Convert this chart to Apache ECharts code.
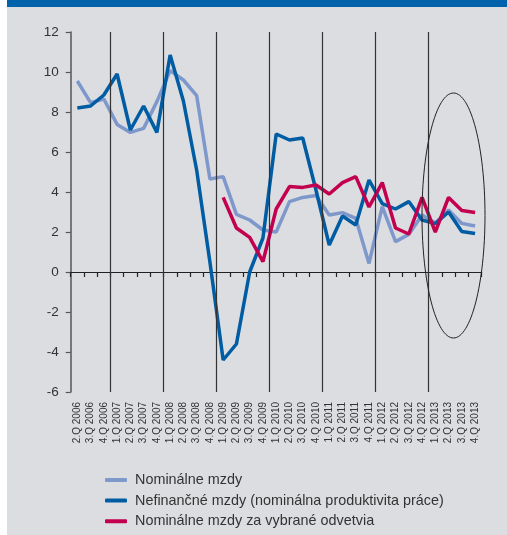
<!DOCTYPE html>
<html>
<head>
<meta charset="utf-8">
<script src="https://cdn.jsdelivr.net/npm/echarts@6/dist/echarts.min.js"></script>
<style>
html,body{margin:0;padding:0;background:#fff;}
#c{width:507px;height:535px;}
</style>
</head>
<body>
<div id="c"></div>
<script>
const categories = [
  '2.Q 2006','3.Q 2006','4.Q 2006',
  '1.Q 2007','2.Q 2007','3.Q 2007','4.Q 2007',
  '1.Q 2008','2.Q 2008','3.Q 2008','4.Q 2008',
  '1.Q 2009','2.Q 2009','3.Q 2009','4.Q 2009',
  '1.Q 2010','2.Q 2010','3.Q 2010','4.Q 2010',
  '1.Q 2011','2.Q 2011','3.Q 2011','4.Q 2011',
  '1.Q 2012','2.Q 2012','3.Q 2012','4.Q 2012',
  '1.Q 2013','2.Q 2013','3.Q 2013','4.Q 2013'
];
const nominalneMzdy = [
  9.55, 8.47, 8.65,
  7.38, 6.98, 7.18, 8.52,
  10.07, 9.6, 8.82, 4.65,
  4.77, 2.88, 2.6, 2.1,
  2.0, 3.52, 3.73, 3.82,
  2.85, 2.97, 2.68, 0.43,
  3.27, 1.52, 1.88, 2.85,
  2.45, 3.1, 2.43, 2.3
];
const nefinancneMzdy = [
  8.2, 8.3, 8.85,
  9.9, 7.1, 8.3, 6.98,
  10.85, 8.55, 5.1, 0.5,
  -4.4, -3.6, 0.0, 1.7,
  6.9, 6.6, 6.7, 4.1,
  1.35, 2.8, 2.35, 4.6,
  3.42, 3.15, 3.52, 2.6,
  2.42, 3.0, 2.03, 1.92
];
const vybraneOdvetvia = [
  null, null, null,
  null, null, null, null,
  null, null, null, null,
  3.73, 2.2, 1.73, 0.52,
  3.15, 4.27, 4.23, 4.35,
  3.9, 4.47, 4.77, 3.25,
  4.47, 2.2, 1.9, 3.73,
  2.0, 3.73, 3.07, 2.97
];
const seriesNames = [
  'Nominálne mzdy',
  'Nefinančné mzdy (nominálna produktivita práce)',
  'Nominálne mzdy za vybrané odvetvia'
];
const colors = ['#7f98cb', '#005ca3', '#c3004f'];

// year boundaries: left edge of every "1.Q" category
const yearStarts = [];
categories.forEach(function (c, i) { if (c.indexOf('1.Q') === 0) yearStarts.push(i); });

const chart = echarts.init(document.getElementById('c'), null, {renderer: 'canvas'});
const font = 'Liberation Sans, Arial, sans-serif';

chart.setOption({
  animation: false,
  backgroundColor: 'transparent',
  textStyle: {fontFamily: font},
  graphic: [
    {type: 'rect', z: -10, silent: true, shape: {x: 7, y: 0, width: 500, height: 535}, style: {fill: '#dcdde0'}},
    {type: 'rect', z: -9, silent: true, shape: {x: 7, y: 0, width: 500, height: 7}, style: {fill: '#0062ab'}},
    {type: 'ellipse', z: 10, silent: true, shape: {cx: 453.5, cy: 215.5, rx: 31.5, ry: 122.5}, style: {fill: 'none', stroke: '#222', lineWidth: 1}}
  ],
  grid: {left: 70.7, right: 25.3, top: 32, bottom: 143, containLabel: false},
  legend: {
    orient: 'vertical',
    left: 105,
    top: 473,
    padding: 0,
    itemWidth: 22,
    itemHeight: 4,
    itemGap: 6.6,
    icon: 'roundRect',
    textStyle: {fontSize: 14.4, color: '#333', fontFamily: font, padding: [0, 0, 0, 3]},
    data: seriesNames
  },
  xAxis: [
    {
      type: 'category',
      data: categories,
      boundaryGap: true,
      position: 'bottom',
      axisLine: {show: false, onZero: false},
      axisTick: {show: false},
      axisLabel: {rotate: 90, fontSize: 10, color: '#333', margin: 10, interval: 0, fontFamily: font},
      splitLine: {show: false}
    },
    {
      type: 'category',
      data: categories,
      boundaryGap: true,
      position: 'bottom',
      axisLine: {show: true, onZero: true, lineStyle: {color: '#222', width: 1.2}},
      axisTick: {show: true, length: 5, interval: 0, lineStyle: {color: '#222', width: 1.2}},
      axisLabel: {show: false},
      splitLine: {show: false}
    },
    {
      type: 'value',
      min: 0,
      max: categories.length,
      show: false,
      axisLine: {onZero: false},
      splitLine: {show: false}
    }
  ],
  yAxis: {
    type: 'value',
    min: -6,
    max: 12,
    interval: 2,
    axisLine: {show: true, lineStyle: {color: '#555', width: 1.5}},
    axisTick: {show: true, length: 5, lineStyle: {color: '#555', width: 1.2}},
    axisLabel: {fontSize: 13.5, color: '#333', margin: 12, fontFamily: font},
    splitLine: {show: false}
  },
  series: [
    {
      name: 'years', type: 'line', xAxisIndex: 2, data: [], silent: true, z: 1,
      markLine: {
        silent: true,
        symbol: 'none',
        label: {show: false},
        animation: false,
        lineStyle: {color: '#333', width: 1.2, type: 'solid'},
        data: yearStarts.map(function (v) { return {xAxis: v}; })
      }
    },
    {name: seriesNames[0], type: 'line', data: nominalneMzdy, showSymbol: false, symbol: 'none', xAxisIndex: 0,
     lineStyle: {color: colors[0], width: 3.5}, itemStyle: {color: colors[0]}, z: 2},
    {name: seriesNames[1], type: 'line', data: nefinancneMzdy, showSymbol: false, symbol: 'none', xAxisIndex: 0,
     lineStyle: {color: colors[1], width: 3.5}, itemStyle: {color: colors[1]}, z: 3},
    {name: seriesNames[2], type: 'line', data: vybraneOdvetvia, showSymbol: false, symbol: 'none', xAxisIndex: 0,
     lineStyle: {color: colors[2], width: 3.5}, itemStyle: {color: colors[2]}, z: 4}
  ]
});
</script>
</body>
</html>
